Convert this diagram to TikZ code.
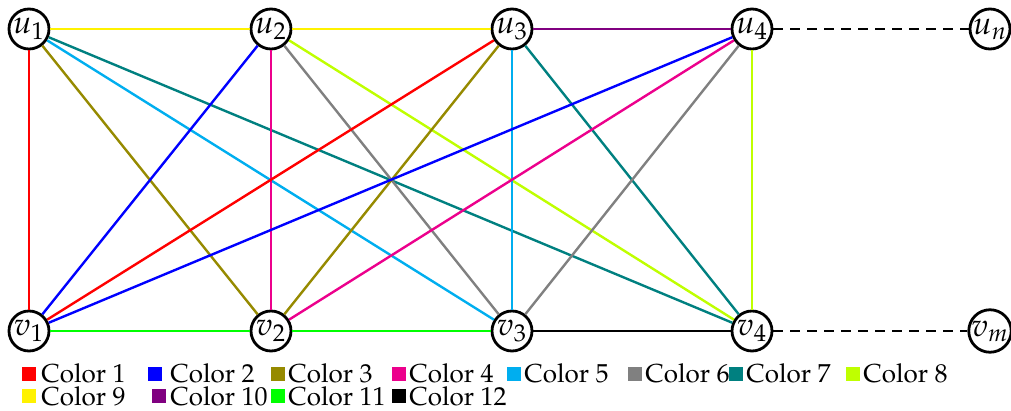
\documentclass[tikz,border=0pt]{standalone}
\usepackage[T1]{fontenc}
\usepackage{mathpazo}
\usetikzlibrary{positioning}
% edge colours, numbered as in the key
\definecolor{gc1}{HTML}{FF0000}
\definecolor{gc2}{HTML}{0000FF}
\definecolor{gc3}{HTML}{968A00}
\definecolor{gc4}{HTML}{EC008C}
\definecolor{gc5}{HTML}{00AEEF}
\definecolor{gc6}{HTML}{808080}
\definecolor{gc7}{HTML}{008080}
\definecolor{gc8}{HTML}{BFFF00}
\definecolor{gc9}{HTML}{FFF200}
\definecolor{gc10}{HTML}{800080}
\definecolor{gc11}{HTML}{00FF00}
\definecolor{gc12}{HTML}{000000}
\tikzset{
  vertex/.style={
    draw, circle, line width=1.4pt, fill=white, minimum size=20pt,
    inner sep=0pt, font=\fontsize{16}{18}\selectfont
  },
  edge/.style={line width=1.2pt},
  tail/.style={edge, black, dashed, dash pattern=on 5pt off 3.5pt},
  swatch/.style={fill=#1, minimum size=7pt, inner sep=0pt, anchor=south west},
  keytext/.style={font=\fontsize{13}{14}\selectfont, inner sep=0pt, anchor=base west}
}

\begin{document}
\begin{tikzpicture}[x=0.5pt, y=-0.5pt]
  \clip (0,0) rectangle (1011,411);
  % the two rows of vertices
  \foreach \i/\x in {1/29, 2/271, 3/512, 4/752} {
    \node[vertex] (u\i) at (\x,29) {$u_\i$};
    \node[vertex] (v\i) at (\x,331) {$v_\i$};
  }
  \node[vertex] (un) at (990,29) {$u_n$};
  \node[vertex] (vm) at (990,331) {$v_m$};

  % cross edges: odd u take the odd colours, even u the even ones
  \foreach \i in {1,...,4} {
    \foreach \j in {1,...,4} {
      \pgfmathtruncatemacro{\c}{mod(\i,2)==1 ? 2*\j-1 : 2*\j}
      \draw[edge, gc\c] (u\i) -- (v\j);
    }
  }
  % horizontal edges
  \draw[edge, gc9] (u1) -- (u2);
  \draw[edge, gc9] (u2) -- (u3);
  \draw[edge, gc10] (u3) -- (u4);
  \draw[edge, gc11] (v1) -- (v2);
  \draw[edge, gc11] (v2) -- (v3);
  \draw[edge, gc12] (v3) -- (v4);
  \draw[tail] (u4) -- (un);
  \draw[tail] (v4) -- (vm);

  % key
  \foreach \n/\sx/\tx/\sy/\by in {1/22/41/381/382, 2/148/170/381/382,
      3/271/288/381/382, 4/392/409/381/382, 5/507/524/381/382,
      6/628/645/381/382, 7/729/746/381/382, 8/846/863/381/382,
      9/22/41/403/405, 10/152/170/403/405, 11/271/288/403/405,
      12/392/409/403/405} {
    \node[swatch=gc\n] (sw\n) at (\sx,\sy) {};
    \node[keytext] (key\n) at (\tx,\by) {Color \n};
  }
\end{tikzpicture}
\end{document}
